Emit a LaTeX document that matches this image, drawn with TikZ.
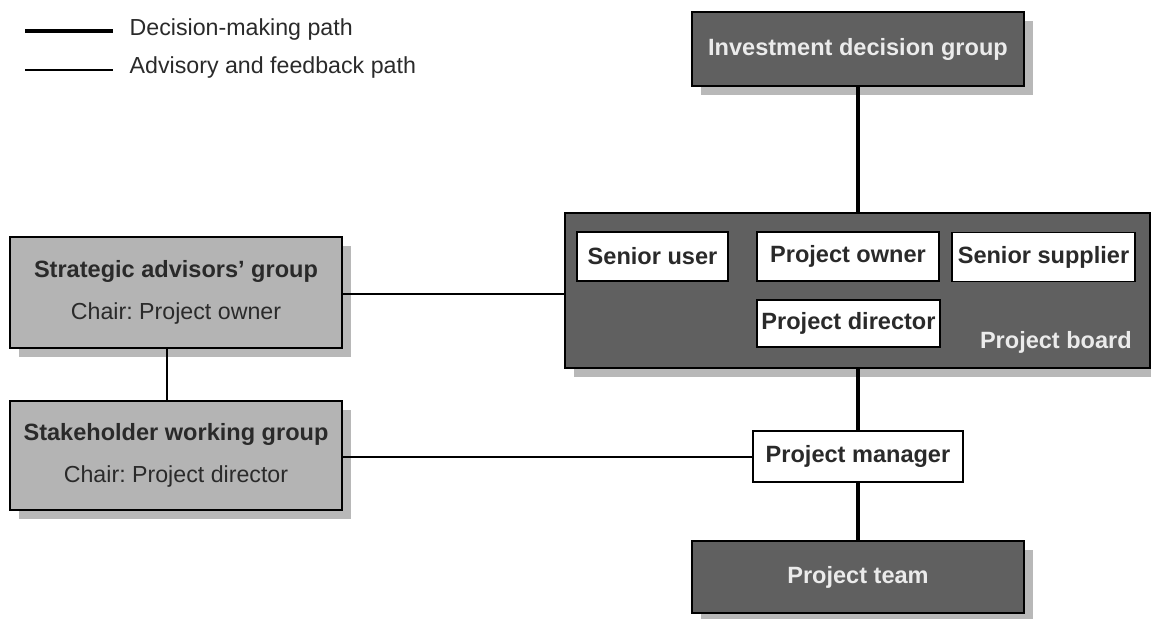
\documentclass[tikz,border=0pt]{standalone}
\usepackage{fontspec}
\setmainfont{Liberation Sans}
\frenchspacing
\usetikzlibrary{positioning, calc, shadows}
\definecolor{darkbox}{HTML}{606060}
\definecolor{lightbox}{HTML}{B4B4B4}
\definecolor{shadowgray}{HTML}{B8B8B8}
\definecolor{inktext}{HTML}{2A2A2A}
\newcommand{\boldsz}{\fontsize{13.4}{24}\selectfont\bfseries}
\newcommand{\plainsz}{\fontsize{13.2}{24}\selectfont}
\tikzset{
  gbox/.style={rectangle, draw=black, line width=1.1pt, fill=#1,
               drop shadow={shadow xshift=0.18cm, shadow yshift=-0.18cm,
                            fill=shadowgray, opacity=1},
               align=center, inner sep=0pt},
  gbox/.default=darkbox,
  dbox/.style={gbox=darkbox, text=white!92!black, font=\boldsz},
  abox/.style={gbox=lightbox, text=inktext, font=\plainsz},
  wbox/.style={rectangle, draw=black, line width=1.1pt, fill=white,
               text=inktext, font=\boldsz, align=center, inner sep=0pt,
               minimum height=0.98cm},
  decide/.style={line width=2.8pt},
  advise/.style={line width=1.1pt},
  lgd/.style={font=\plainsz, text=inktext, anchor=west},
}

\begin{document}
\begin{tikzpicture}
  \useasboundingbox (0,0) rectangle (23.02,-12.38);

  \coordinate (dmA) at (0.5,-0.62);
  \coordinate (dmB) at (2.26,-0.62);
  \coordinate (afA) at (0.5,-1.40);
  \coordinate (afB) at (2.26,-1.40);
  \draw[decide] (dmA) -- (dmB);
  \draw[advise] (afA) -- (afB);
  \node[lgd] (dmtext) at (2.47,-0.60) {Decision-making path};
  \node[lgd] (aftext) at (2.47,-1.36) {Advisory and feedback path};

  \node[dbox, minimum width=6.64cm, minimum height=1.48cm] (invest) at (17.16,-0.98)
    {Investment decision group};

  \node[gbox, minimum width=11.7cm, minimum height=3.1cm] (board) at (17.15,-5.81) {};
  \node[wbox, minimum width=3.02cm] (seniorusr) at (13.05,-5.13) {Senior user};
  \node[wbox, minimum width=3.64cm] (owner) at (16.96,-5.13) {Project owner};
  \node[wbox, minimum width=3.66cm] (supplier) at (20.87,-5.14) {Senior supplier};
  \node[wbox, minimum width=3.66cm, minimum height=0.94cm] (director) at (16.97,-6.47)
    {Project director};
  \node[anchor=base east, text=white!92!black, font=\boldsz]
    (boardlbl) at (22.76,-6.96) {Project board};

  \node[abox, minimum width=6.64cm, minimum height=2.22cm] (strat) at (3.52,-5.85)
    {{\boldsz Strategic advisors' group}\\Chair: Project owner};
  \node[abox, minimum width=6.64cm, minimum height=2.18cm] (stake) at (3.52,-9.11)
    {{\boldsz Stakeholder working group}\\Chair: Project director};

  \node[wbox, minimum width=4.2cm, minimum height=1.02cm] (manager) at (17.16,-9.13)
    {Project manager};
  \node[dbox, minimum width=6.64cm, minimum height=1.44cm] (team) at (17.16,-11.54)
    {Project team};

  \draw[decide] (invest.south) -- (invest.south |- board.north);
  \draw[decide] (manager.north |- board.south) -- (manager.north);
  \draw[decide] (manager.south) -- (team.north);
  \draw[advise] ([yshift=-0.03cm]strat.east) -- ([yshift=-0.03cm]strat.east -| board.west);
  \draw[advise] ([xshift=-0.18cm]strat.south) -- ([xshift=-0.18cm]strat.south |- stake.north);
  \draw[advise] ([yshift=-0.03cm]stake.east) -- ([yshift=-0.03cm]stake.east -| manager.west);
\end{tikzpicture}
\end{document}
